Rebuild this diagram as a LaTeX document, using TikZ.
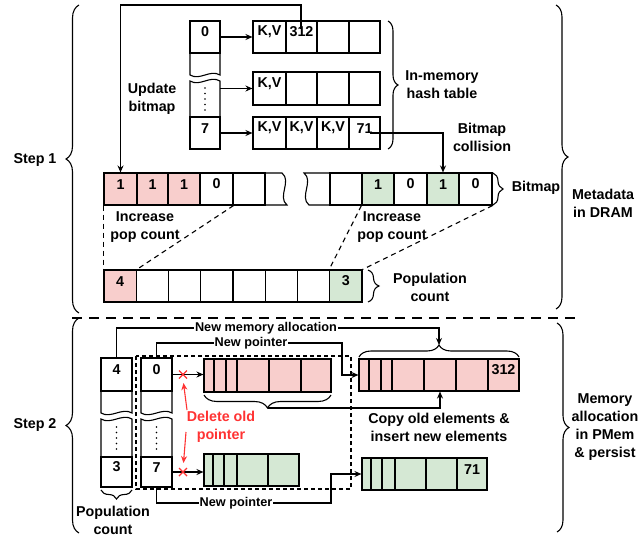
\documentclass[tikz,border=0pt]{standalone}
\usepackage{fontspec}
\setmainfont{Liberation Sans}
\usetikzlibrary{arrows.meta,decorations.pathreplacing,fit,calc}
\definecolor{pinkf}{HTML}{F8CECC}
\definecolor{greenf}{HTML}{D5E8D4}
\definecolor{redc}{HTML}{FF3333}
\newcommand\mycell[4]{\node[cellst,#4,fit={#2}] (#1) {#3};}
\begin{document}
\begin{tikzpicture}[x=1pt,y=-1pt,
 every node/.style={font=\bfseries\fontsize{14.3}{18}\selectfont},
 cellst/.style={draw,line width=1.1pt,inner sep=0pt},
 pk/.style={fill=pinkf}, gr/.style={fill=greenf},
 conn/.style={line width=1.1pt},
 arr/.style={line width=1.1pt,-{Stealth[length=7pt,width=6pt]}},
 redarr/.style={line width=1.1pt,redc,-{Stealth[length=7pt,width=6pt]}},
 lbl/.style={align=center},
 edgelbl/.style={fill=white,inner sep=1pt,font=\bfseries\fontsize{12.7}{15}\selectfont},
 brc/.style={decorate,decoration={brace,amplitude=#1},line width=1.1pt},
 popdash/.style={line width=1.1pt,dash pattern=on 5pt off 4pt},
 vdots/.style={line width=1.6pt,line cap=round,dash pattern=on 0pt off 5.5pt},
]
\useasboundingbox (0,0) rectangle (640,538);

% ---------------- Step 1: hash table ----------------
\mycell{b0}{(190,21)(220,53)}{0}{}
\draw[conn] (190,53) -- (190,75) .. controls (200,81) and (210,69) .. (220,75) -- (220,53);
\draw[conn] (190,117) -- (190,81) .. controls (200,87) and (210,75) .. (220,81) -- (220,117);
\mycell{b7}{(190,117)(220,149)}{7}{}
\draw[vdots] (205,88) -- (205,114);
\coordinate (bmid) at (220,88.5);

\mycell{r0a}{(253,21)(286,53)}{K,V}{}
\mycell{r0b}{(286,21)(317,53)}{312}{}
\mycell{r0c}{(317,21)(349,53)}{}{}
\mycell{r0d}{(349,21)(380,53)}{}{}
\mycell{r1a}{(253,72)(286,105)}{K,V}{}
\mycell{r1b}{(286,72)(317,105)}{}{}
\mycell{r1c}{(317,72)(349,105)}{}{}
\mycell{r1d}{(349,72)(380,105)}{}{}
\mycell{r2a}{(253,117)(286,149)}{K,V}{}
\mycell{r2b}{(286,117)(317,149)}{K,V}{}
\mycell{r2c}{(317,117)(349,149)}{K,V}{}
\mycell{r2d}{(349,117)(380,149)}{71}{}

\draw[arr] (b0.east) -- (b0.east -| r0a.west);
\draw[arr] (bmid) -- (bmid -| r1a.west);
\draw[arr] (b7.east) -- (b7.east -| r2a.west);

\draw[brc=10pt] (388,21) -- (388,149);
\node[lbl] (htl) at (442,85) {In-memory\\hash table};
\node[lbl] (ubl) at (152,99) {Update\\bitmap};
\node[lbl] (bcl) at (482,137) {Bitmap\\collision};

% ---------------- bitmap ----------------
\mycell{bm1}{(104,173)(137,205)}{1}{pk}
\mycell{bm2}{(137,173)(168,205)}{1}{pk}
\mycell{bm3}{(168,173)(200,205)}{1}{pk}
\mycell{bm4}{(200,173)(233,205)}{0}{}
\mycell{bm5}{(233,173)(265,205)}{}{}
\draw[conn] (265,173) -- (282,173) .. controls (292,181) and (277,197) .. (287,205) -- (265,205);
\draw[conn] (330,173) -- (304,173) .. controls (314,181) and (299,197) .. (309,205) -- (330,205);
\mycell{bm6}{(330,173)(362,205)}{}{}
\mycell{bm7}{(362,173)(394,205)}{1}{gr}
\mycell{bm8}{(394,173)(427,205)}{0}{}
\mycell{bm9}{(427,173)(459,205)}{1}{gr}
\mycell{bm10}{(459,173)(492,205)}{0}{}
\draw[brc=10pt] (493,173) -- (493,205);
\node (bml) at (536,188) {Bitmap};

\coordinate (u0) at (301,29);
\draw[arr] (u0) -- (301,5) -| (bm1.north);
\coordinate (c0) at (370,133);
\draw[arr] (c0) -| (bm9.north);

% ---------------- population count ----------------
\mycell{pc1}{(104,270)(136.25,302)}{4}{pk}
\mycell{pc2}{(136.25,270)(168.5,302)}{}{}
\mycell{pc3}{(168.5,270)(200.75,302)}{}{}
\mycell{pc4}{(200.75,270)(233,302)}{}{}
\mycell{pc5}{(233,270)(265.25,302)}{}{}
\mycell{pc6}{(265.25,270)(297.5,302)}{}{}
\mycell{pc7}{(297.5,270)(329.75,302)}{}{}
\mycell{pc8}{(329.75,270)(362,302)}{3}{gr}
\draw[brc=11pt] (368,270) -- (368,302);
\node[lbl] (pcl) at (430,287) {Population\\count};

\draw[popdash] (bm1.south west) -- (pc1.north west);
\draw[popdash] (bm4.south east) -- (pc1.north east);
\draw[popdash] (bm7.south west) -- (pc8.north west);
\draw[popdash] (bm10.south east) -- (pc8.north east);
\node[lbl] (ipl) at (145,227) {Increase\\pop count};
\node[lbl] (ipr) at (392,227) {Increase\\pop count};

% ---------------- braces / labels left and right ----------------
\draw[brc=13pt] (79,313) -- (79,5);
\node (s1) at (35,160) {Step 1};
\draw[brc=13pt] (79,533) -- (79,318);
\node (s2) at (35,425) {Step 2};
\draw[brc=12pt] (556,5) -- (556,309);
\node[lbl] (mdl) at (603,203) {Metadata\\in DRAM};
\draw[brc=12pt] (557,323) -- (557,532);
\node[lbl] (mal) at (605,427) {Memory\\allocation\\in PMem\\\& persist};

\draw[line width=2.5pt,dash pattern=on 10pt off 7pt] (72,318) -- (577,318);

% ---------------- Step 2 ----------------
\mycell{p4}{(101,358)(132,391)}{4}{}
\draw[conn] (101,391) -- (101,413) .. controls (111,419) and (122,407) .. (132,413) -- (132,391);
\draw[conn] (101,457) -- (101,419) .. controls (111,425) and (122,413) .. (132,419) -- (132,457);
\mycell{p3}{(101,457)(132,487)}{3}{}
\draw[vdots] (116.5,427) -- (116.5,452);

\mycell{q0}{(141,358)(172,391)}{0}{}
\draw[conn] (141,391) -- (141,413) .. controls (151,419) and (162,407) .. (172,413) -- (172,391);
\draw[conn] (141,457) -- (141,419) .. controls (151,425) and (162,413) .. (172,419) -- (172,457);
\mycell{q7}{(141,457)(172,487)}{7}{}
\draw[vdots] (156.5,427) -- (156.5,452);

\draw[line width=1.1pt,dash pattern=on 4pt off 3pt] (136,356) rectangle (351,489);

\draw[brc=9pt] (132,490) -- (101,490);
\node[lbl] (pc2l) at (113,520) {Population\\count};

% old pink row
\mycell{op1}{(204,359)(214,392)}{}{pk}
\mycell{op2}{(214,359)(226,392)}{}{pk}
\mycell{op3}{(226,359)(237,392)}{}{pk}
\mycell{op4}{(237,359)(269,392)}{}{pk}
\mycell{op5}{(269,359)(301,392)}{}{pk}
\mycell{op6}{(301,359)(331,392)}{}{pk}
% new pink row
\mycell{np1}{(359,359)(369,391)}{}{pk}
\mycell{np2}{(369,359)(381,391)}{}{pk}
\mycell{np3}{(381,359)(392,391)}{}{pk}
\mycell{np4}{(392,359)(424,391)}{}{pk}
\mycell{np5}{(424,359)(456,391)}{}{pk}
\mycell{np6}{(456,359)(488,391)}{}{pk}
\mycell{np7}{(488,359)(519,391)}{312}{pk}
% old green row
\mycell{og1}{(204,454)(213,486)}{}{gr}
\mycell{og2}{(213,454)(224,486)}{}{gr}
\mycell{og3}{(224,454)(237,486)}{}{gr}
\mycell{og4}{(237,454)(268,486)}{}{gr}
\mycell{og5}{(268,454)(299,486)}{}{gr}
% new green row
\mycell{ng1}{(362,458)(371,490)}{}{gr}
\mycell{ng2}{(371,458)(382,490)}{}{gr}
\mycell{ng3}{(382,458)(395,490)}{}{gr}
\mycell{ng4}{(395,458)(426,490)}{}{gr}
\mycell{ng5}{(426,458)(457,490)}{}{gr}
\mycell{ng6}{(457,458)(487,490)}{71}{gr}

% old pointers with red crosses
\draw[arr] (q0.east) -- (q0.east -| op1.west);
\draw[arr] (q7.east) -- (q7.east -| og1.west);
\coordinate (x1) at (183,374.5);
\coordinate (x2) at (183,472);
\draw[redc,line width=1.4pt] ($(x1)+(-4,-4)$) -- ($(x1)+(4,4)$) ($(x1)+(-4,4)$) -- ($(x1)+(4,-4)$);
\draw[redc,line width=1.4pt] ($(x2)+(-4,-4)$) -- ($(x2)+(4,4)$) ($(x2)+(-4,4)$) -- ($(x2)+(4,-4)$);
\node[lbl,text=redc] (del) at (221,427) {Delete old\\pointer};
\draw[redarr] (187,410) -- (183.5,383);
\draw[redarr] (186,432) -- (183.5,463);

% braces on rows
\draw[brc=12pt] (359,357) -- (519,357);
\coordinate (npbr) at (439,345);
\draw[brc=13pt] (331,395) -- (204,395);
\coordinate (opbr) at (267.5,408);

% connectors step 2
\draw[arr] (p4.north) |- (439,328) -- (npbr);
\node[edgelbl] (nma) at (266,328) {New memory allocation};
\draw[arr] (q0.north) |- (342,343) |- (np1.west);
\node[edgelbl] (npt) at (251,343) {New pointer};
\draw[arr] (opbr) -| (np5.south);
\node[lbl] (cpl) at (439,427) {Copy old elements \&\\insert new elements};
\draw[arr] (q7.south) |- (331,503) |- (ng1.west);
\node[edgelbl] (npb) at (236,503) {New pointer};
\end{tikzpicture}
\end{document}
